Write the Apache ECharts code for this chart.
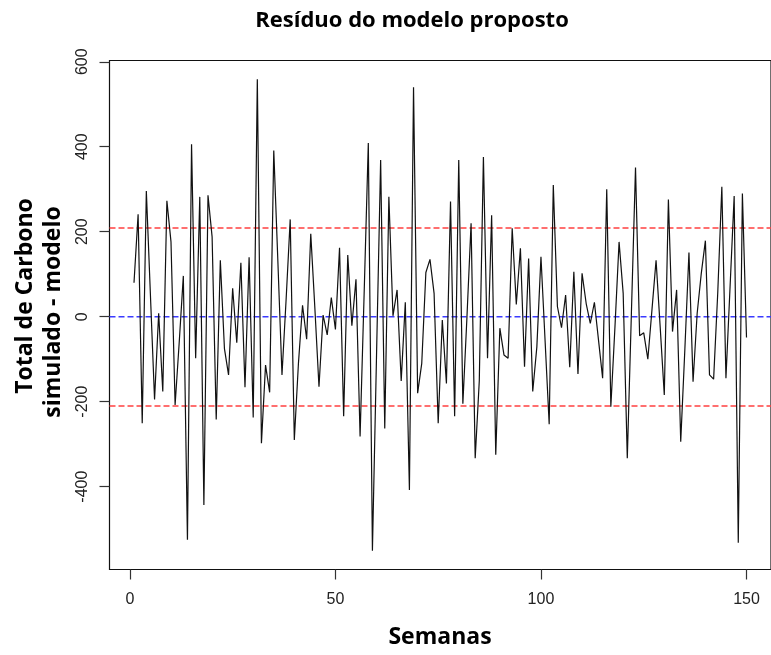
<!DOCTYPE html>
<html>
<head>
<meta charset="utf-8">
<script src="https://cdn.jsdelivr.net/npm/echarts@6/dist/echarts.min.js"></script>
<style>
html,body{margin:0;padding:0;background:#fff;}
#chart{width:771px;height:655px;}
</style>
</head>
<body>
<div id="chart"></div>
<script>
// Residuals per week
var residuals = [
  80, 241, -251, 296, 50, -195, 8, -176, 273, 176,
  -208, -60, 96, -525, 406, -98, 282, -443, 286, 188,
  -242, 133, -75, -137, 67, -61, 127, -166, 140, -237,
  559, -298, -114, -178, 391, 130, -137, 40, 229, -290,
  -110, 27, -53, 195, 20, -165, 4, -43, 45, -30,
  162, -234, 145, -21, 88, -282, 60, 409, -551, -90,
  369, -263, 282, 2, 63, -151, 34, -408, 540, -180,
  -110, 104, 135, 55, -251, -8, -157, 271, -234, 369,
  -205, 0, 220, -333, -150, 376, -98, 239, -325, -27,
  -90, -98, 208, 29, 161, -118, 137, -176, -71, 141,
  -56, -253, 310, 24, -26, 51, -119, 106, -135, 102,
  31, -16, 34, -55, -145, 300, -212, -24, 176, 55,
  -333, 8, 351, -45, -38, -100, 16, 133, -24, -184,
  276, -35, 63, -294, -78, 151, -153, 8, 102, 179,
  -137, -147, 55, 306, -145, 70, 284, -532, 290, -49
];
var xTicks = [0, 50, 100, 150];
var yTicks = [-400, -200, 0, 200, 400, 600];
var upperLimit = 209;
var lowerLimit = -210;
var centerValue = 0;
var xRange = [-4.96, 155.96];
var yRange = [-595, 603];

var seriesData = residuals.map(function (v, i) { return [i + 1, v]; });

var chart = echarts.init(document.getElementById('chart'), null, {renderer: 'canvas'});
var tickFont = '"Liberation Sans", Arial, sans-serif';
var boldFont = '"Open Sans", "Noto Sans", sans-serif';

function hLine(v, color) {
  return {
    type: 'line',
    data: [[xRange[0], v], [xRange[1], v]],
    showSymbol: false,
    symbol: 'none',
    silent: true,
    lineStyle: {color: color, type: [6, 3], width: 1.5, opacity: 1},
    emphasis: {disabled: true},
    z: 2
  };
}

chart.setOption({
  animation: false,
  backgroundColor: '#fff',
  grid: {
    left: 109.5, top: 60.5, width: 669.5, height: 509,
    show: true, borderColor: '#111', borderWidth: 1.2, backgroundColor: 'transparent'
  },
  xAxis: {
    type: 'value', min: xRange[0], max: xRange[1],
    axisLine: {show: false, onZero: false},
    splitLine: {show: false},
    axisTick: {show: true, length: 10, inside: false, customValues: xTicks,
      lineStyle: {color: '#333', width: 1.2}},
    axisLabel: {show: true, customValues: xTicks, margin: 22,
      fontFamily: tickFont, fontSize: 16, color: '#222'}
  },
  yAxis: {
    type: 'value', min: yRange[0], max: yRange[1],
    axisLine: {show: false, onZero: false},
    splitLine: {show: false},
    axisTick: {show: true, length: 10, inside: false, customValues: yTicks,
      lineStyle: {color: '#333', width: 1.2}},
    axisLabel: {show: true, customValues: yTicks, rotate: 90, margin: 19,
      fontFamily: tickFont, fontSize: 16, color: '#222'}
  },
  series: [
    hLine(upperLimit, '#ff4040'),
    hLine(lowerLimit, '#ff4040'),
    hLine(centerValue, '#3a3aff'),
    {
      type: 'line',
      data: seriesData,
      showSymbol: false,
      symbol: 'none',
      lineStyle: {color: '#111', width: 1.2},
      z: 3
    }
  ],
  graphic: [
    {type: 'text', x: 412, y: 21, style: {text: 'Resíduo do modelo proposto',
      font: 'bold 22px ' + boldFont, fill: '#000', textAlign: 'center', textVerticalAlign: 'middle'}},
    {type: 'text', x: 440, y: 637, style: {text: 'Semanas',
      font: 'bold 23px ' + boldFont, fill: '#000', textAlign: 'center', textVerticalAlign: 'middle'}},
    {type: 'text', x: 25, y: 296, rotation: Math.PI / 2, style: {text: 'Total de Carbono',
      font: 'bold 23px ' + boldFont, fill: '#000', textAlign: 'center', textVerticalAlign: 'middle'}},
    {type: 'text', x: 53, y: 312, rotation: Math.PI / 2, style: {text: 'simulado - modelo',
      font: 'bold 23px ' + boldFont, fill: '#000', textAlign: 'center', textVerticalAlign: 'middle'}}
  ]
});
</script>
</body>
</html>
